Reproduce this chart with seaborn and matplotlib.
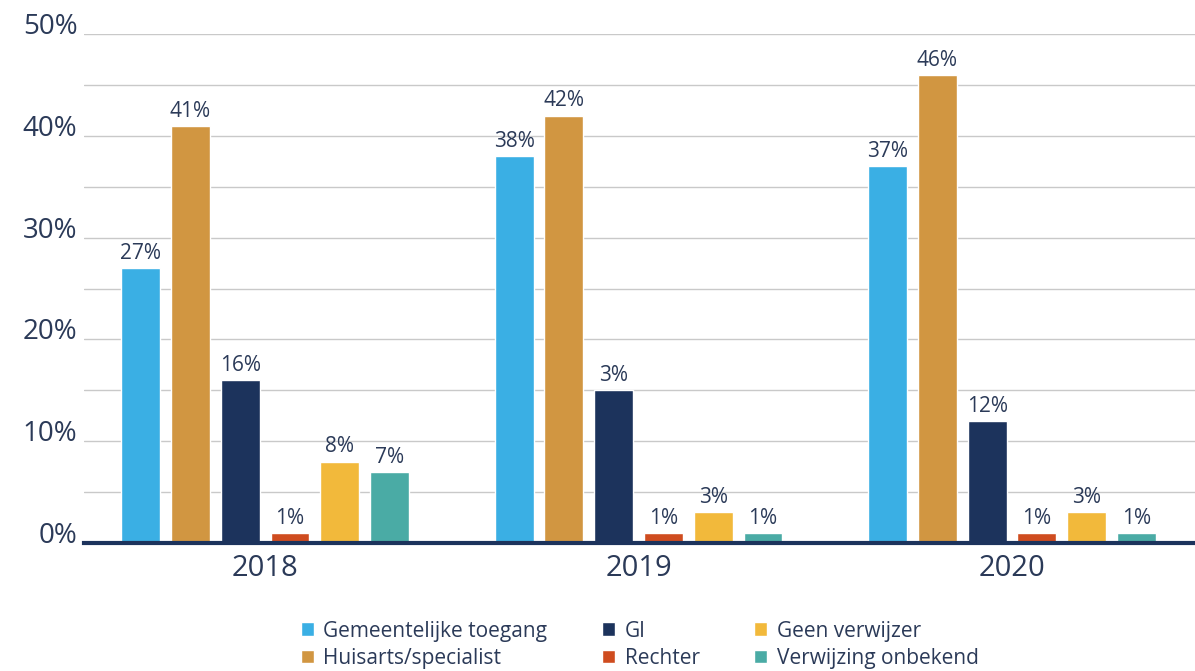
import pandas as pd
import seaborn as sns
import matplotlib.pyplot as plt

# Gegevens uit de grafiek
jaren = ['2018', '2019', '2020']
verwijzers = ['Gemeentelijke toegang', 'Huisarts/specialist', 'GI', 'Rechter',
              'Geen verwijzer', 'Verwijzing onbekend']
waarden = {
    'Gemeentelijke toegang': [27, 38, 37],
    'Huisarts/specialist': [41, 42, 46],
    'GI': [16, 15, 12],
    'Rechter': [1, 1, 1],
    'Geen verwijzer': [8, 3, 3],
    'Verwijzing onbekend': [7, 1, 1],
}
# labels zoals ze in de bron staan (2019 GI staat als 3%)
labels = {
    'Gemeentelijke toegang': ['27%', '38%', '37%'],
    'Huisarts/specialist': ['41%', '42%', '46%'],
    'GI': ['16%', '3%', '12%'],
    'Rechter': ['1%', '1%', '1%'],
    'Geen verwijzer': ['8%', '3%', '3%'],
    'Verwijzing onbekend': ['7%', '1%', '1%'],
}
y_ticks = [0, 10, 20, 30, 40, 50]
kleuren = ['#3aafe4', '#d19641', '#1c335c', '#cf4c1f', '#f2b93b', '#4aaba5']

rows = []
for v in verwijzers:
    for j, w in zip(jaren, waarden[v]):
        rows.append({'Jaar': j, 'Verwijzer': v, 'Percentage': w})
df = pd.DataFrame(rows)

sns.set_style('white')
plt.rcParams['font.family'] = ['Open Sans', 'DejaVu Sans']
tekst = '#2b3a58'

fig = plt.figure(figsize=(11.95, 6.71), dpi=100)
ax = fig.add_axes([0.0703, 0.1908, 0.9297, 0.7582])

sns.barplot(data=df, x='Jaar', y='Percentage', hue='Verwijzer', hue_order=verwijzers,
            palette=kleuren, width=0.8, gap=0.22, saturation=1, ax=ax, zorder=3)

for cont, v in zip(ax.containers, verwijzers):
    ax.bar_label(cont, labels=labels[v], padding=3, fontsize=15, color=tekst)

ax.set_ylim(0, 50)
ax.set_xlim(-0.485, 2.49)
ax.set_yticks(y_ticks)
ax.set_yticks(range(5, 50, 10), minor=True)
ax.set_yticklabels([])
# y-labels staan op de rasterlijn (baseline)
for t in y_ticks:
    ax.text(-0.006, t, f'{t}%', transform=ax.get_yaxis_transform(), ha='right',
            va='baseline', fontsize=20, color=tekst)
ax.tick_params(axis='x', labelsize=21, colors=tekst, length=0, pad=8)
ax.tick_params(axis='y', which='both', length=0)
ax.grid(axis='y', which='both', color='#c9c9c9', linewidth=1, zorder=0)
ax.set_xlabel('')
ax.set_ylabel('')
for s in ['top', 'right', 'left']:
    ax.spines[s].set_visible(False)
ax.spines['bottom'].set_color('#1c335c')
ax.spines['bottom'].set_linewidth(3)
ax.spines['bottom'].set_zorder(4)

leg = ax.legend(ncol=3, loc='center', bbox_to_anchor=(0.5, -0.2), frameon=False,
                fontsize=15, handlelength=0.65, handleheight=0.65, handletextpad=0.45,
                columnspacing=2.6, labelspacing=0.3)
for t in leg.get_texts():
    t.set_color(tekst)

fig.savefig('out.png', dpi=100)
